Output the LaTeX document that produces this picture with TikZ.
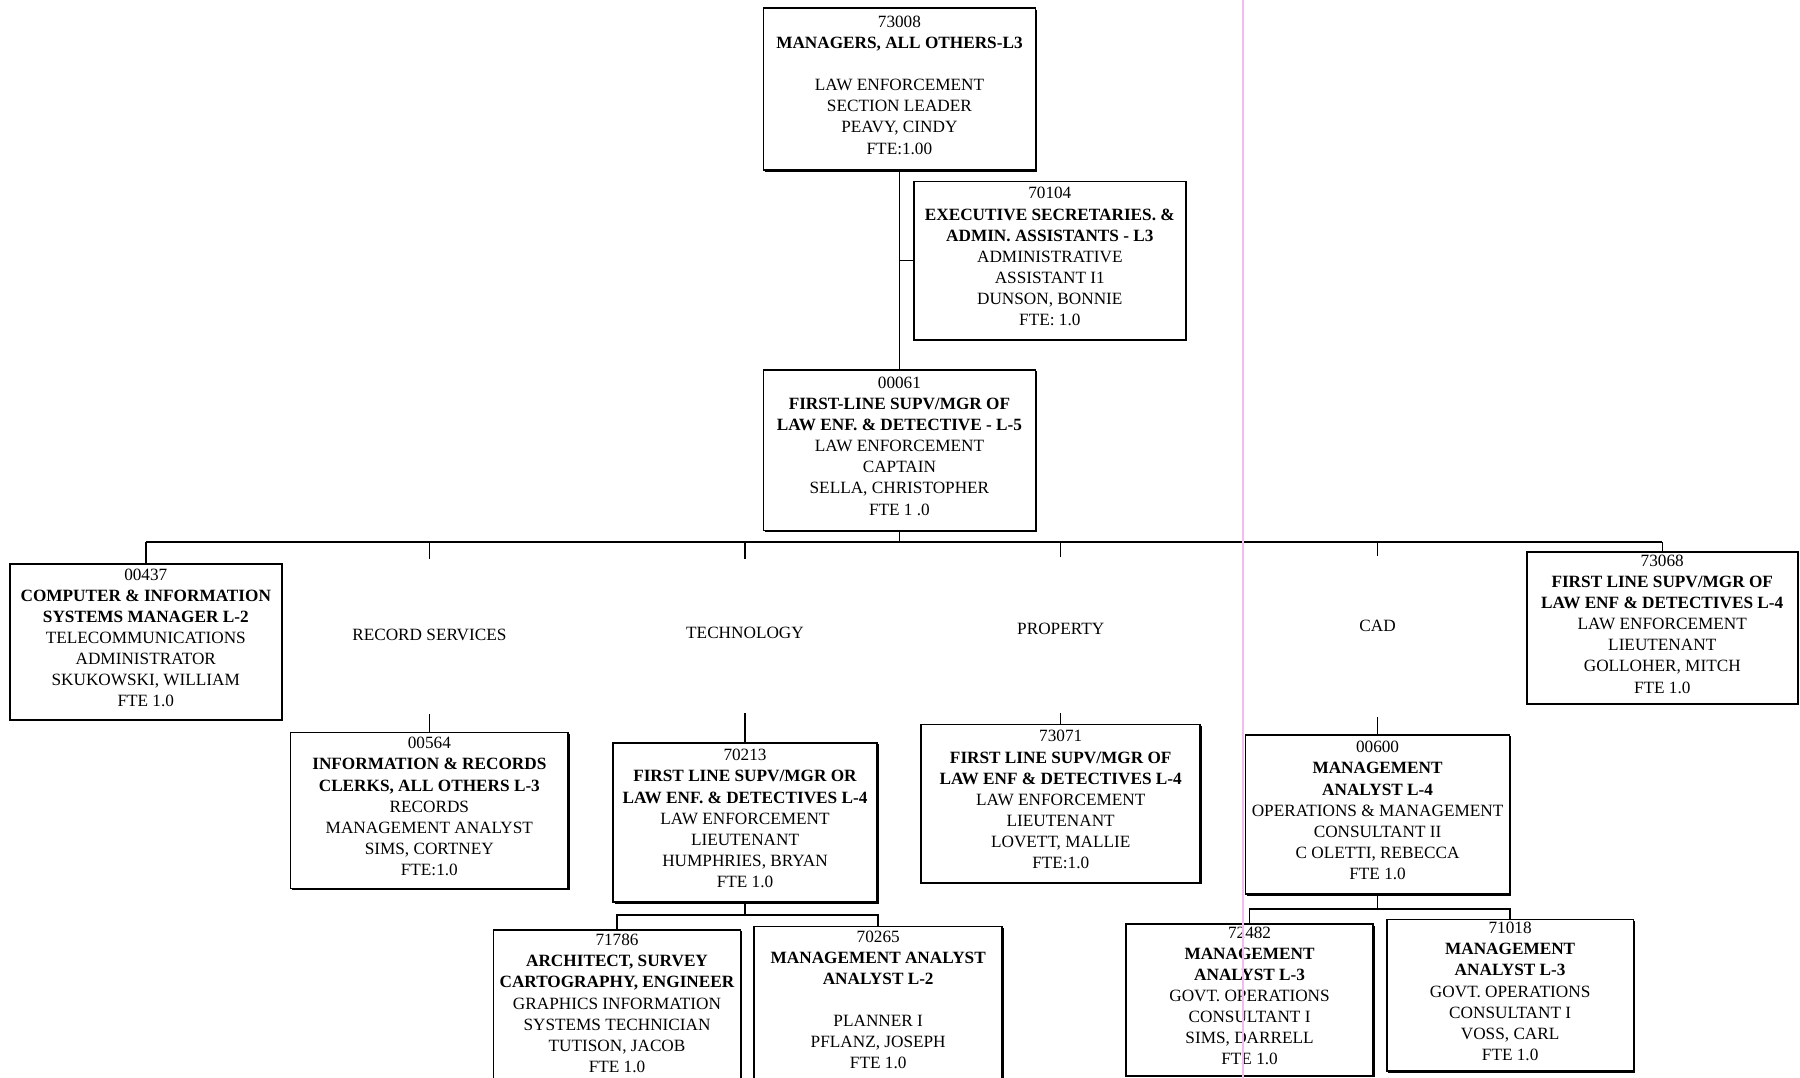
\documentclass[tikz,border=0pt]{standalone}
\usepackage{fontspec}
\setmainfont{Liberation Serif}
\usetikzlibrary{shadows}
\definecolor{scanpink}{RGB}{244,188,236}
\begin{document}
\begin{tikzpicture}[x=1pt,y=-1pt,
  post/.style={draw=black, line width=1.5pt, fill=white, inner sep=0pt,
    align=center, font=\fontsize{15}{18.4}\selectfont,
    execute at end node={\rule[-7pt]{0pt}{7pt}},
    drop shadow={shadow xshift=1.4pt, shadow yshift=-1.4pt, fill=black, opacity=1}},
  unit/.style={inner sep=0pt, font=\fontsize{15}{18.4}\selectfont},
  link/.style={draw=black, line width=1.3pt},
  scanline/.style={draw=scanpink, line width=1.6pt}
]
% page
\fill[white] (0,0) rectangle (1568,939);
\useasboundingbox (0,0) rectangle (1568,939);
\clip (0,0) rectangle (1568,939);

% ---- top of the chart
\node[post, minimum width=237pt, minimum height=141pt] (n73008) at (783.5,77.5)
  {73008\\\textbf{MANAGERS, ALL OTHERS-L3}\\[18.4pt]LAW ENFORCEMENT\\SECTION LEADER\\PEAVY, CINDY\\FTE:1.00};
\node[post, minimum width=237pt, minimum height=138pt] (n70104) at (914.5,227)
  {70104\\\textbf{EXECUTIVE SECRETARIES. \&}\\\textbf{ADMIN. ASSISTANTS - L3}\\ADMINISTRATIVE\\ASSISTANT I1\\DUNSON, BONNIE\\FTE: 1.0};
\node[post, minimum width=237pt, minimum height=140pt] (n00061) at (783.5,392)
  {00061\\\textbf{FIRST-LINE SUPV/MGR OF}\\\textbf{LAW ENF. \& DETECTIVE - L-5}\\LAW ENFORCEMENT\\CAPTAIN\\SELLA, CHRISTOPHER\\FTE 1 .0};

% ---- second level
\node[post, minimum width=237pt, minimum height=136pt] (n00437) at (127,559)
  {00437\\\textbf{COMPUTER \& INFORMATION}\\\textbf{SYSTEMS MANAGER L-2}\\TELECOMMUNICATIONS\\ADMINISTRATOR\\SKUKOWSKI, WILLIAM\\FTE 1.0};
\node[unit] (lblrec) at (374,553) {RECORD SERVICES};
\node[unit] (lbltech) at (649,551) {TECHNOLOGY};
\node[unit] (lblprop) at (924,548) {PROPERTY};
\node[unit] (lblcad) at (1200,545) {CAD};
\node[post, minimum width=236pt, minimum height=132pt] (n73068) at (1448,547)
  {73068\\\textbf{FIRST LINE SUPV/MGR OF}\\\textbf{LAW ENF \& DETECTIVES L-4}\\LAW ENFORCEMENT\\LIEUTENANT\\GOLLOHER, MITCH\\FTE 1.0};

% ---- section heads
\node[post, minimum width=242pt, minimum height=136pt] (n00564) at (374,706)
  {00564\\\textbf{INFORMATION \& RECORDS}\\\textbf{CLERKS, ALL OTHERS L-3}\\RECORDS\\MANAGEMENT ANALYST\\SIMS, CORTNEY\\FTE:1.0};
\node[post, minimum width=230pt, minimum height=139pt] (n70213) at (649,716.5)
  {70213\\\textbf{FIRST LINE SUPV/MGR OR}\\\textbf{LAW ENF. \& DETECTIVES L-4}\\LAW ENFORCEMENT\\LIEUTENANT\\HUMPHRIES, BRYAN\\FTE 1.0};
\node[post, minimum width=243pt, minimum height=138pt] (n73071) at (924,700)
  {73071\\\textbf{FIRST LINE SUPV/MGR OF}\\\textbf{LAW ENF \& DETECTIVES L-4}\\LAW ENFORCEMENT\\LIEUTENANT\\LOVETT, MALLIE\\FTE:1.0};
\node[post, minimum width=230pt, minimum height=139pt] (n00600) at (1200,709.5)
  {00600\\\textbf{MANAGEMENT}\\\textbf{ANALYST L-4}\\OPERATIONS \& MANAGEMENT\\CONSULTANT II\\C OLETTI, REBECCA\\FTE 1.0};

% ---- bottom level
\node[post, minimum width=215pt, minimum height=135pt] (n71786) at (537.5,877.5)
  {71786\\\textbf{ARCHITECT, SURVEY}\\\textbf{CARTOGRAPHY, ENGINEER}\\GRAPHICS INFORMATION\\SYSTEMS TECHNICIAN\\TUTISON, JACOB\\FTE 1.0};
\node[post, minimum width=216pt, minimum height=135pt] (n70265) at (765,874.5)
  {70265\\\textbf{MANAGEMENT ANALYST}\\\textbf{ANALYST L-2}\\[18.4pt]PLANNER I\\PFLANZ, JOSEPH\\FTE 1.0};
\node[post, minimum width=215pt, minimum height=132pt] (n72482) at (1088.5,871)
  {72482\\\textbf{MANAGEMENT}\\\textbf{ANALYST L-3}\\GOVT. OPERATIONS\\CONSULTANT I\\SIMS, DARRELL\\FTE 1.0};
\node[post, minimum width=215pt, minimum height=132pt] (n71018) at (1315.5,867)
  {71018\\\textbf{MANAGEMENT}\\\textbf{ANALYST L-3}\\GOVT. OPERATIONS\\CONSULTANT I\\VOSS, CARL\\FTE 1.0};

% ---- connectors
\coordinate (busL) at (127,472);
\coordinate (busR) at (1448,472);
\coordinate (techJ) at (649,797);
\coordinate (cadJ) at (1200,792);

\draw[link] (n73008.south) -- (n00061.north);
\draw[link] (n70104.west) -- (n70104.west -| n73008.south);
\draw[link] (n00061.south) -- (n00061.south |- busL);
\draw[link] (busL) -- (busR);
\draw[link] (busL) -- (n00437.north);
\draw[link] (busR) -- (n73068.north);

\draw[link] (lblrec |- busL) -- ++(0,15);
\draw[link] (lbltech |- busL) -- ++(0,15);
\draw[link] (lblprop |- busL) -- ++(0,13);
\draw[link] (lblcad |- busL) -- ++(0,12);

\draw[link] (n00564.north) -- ++(0,-15);
\draw[link] (n70213.north) -- ++(0,-25);
\draw[link] (n73071.north) -- ++(0,-9);
\draw[link] (n00600.north) -- ++(0,-15);

\draw[link] (n70213.south) -- (techJ);
\draw[link] (n71786.north) |- (techJ) -| (n70265.north);
\draw[link] (n00600.south) -- (cadJ);
\draw[link] (n72482.north) |- (cadJ) -| (n71018.north);

% ---- crease on the sheet
\draw[scanline] (1083,0) -- (1083,939);
\end{tikzpicture}
\end{document}
